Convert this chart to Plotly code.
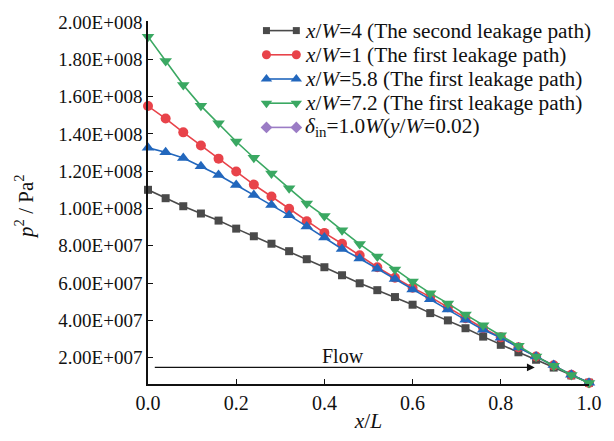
import plotly.graph_objects as go

# Relative position along the channel
x_over_L = [0.00, 0.04, 0.08, 0.12, 0.16, 0.20, 0.24, 0.28, 0.32, 0.36, 0.40, 0.44, 0.48,
            0.52, 0.56, 0.60, 0.64, 0.68, 0.72, 0.76, 0.80, 0.84, 0.88, 0.92, 0.96, 1.00]

# p^2 values (in units of 1e7 Pa^2)
p2_xw4 = [11.00, 10.55, 10.12, 9.73, 9.35, 8.92, 8.51, 8.11, 7.71, 7.28, 6.85, 6.42, 5.99,
          5.62, 5.25, 4.84, 4.39, 4.00, 3.58, 3.13, 2.69, 2.29, 1.89, 1.47, 1.05, 0.66]
p2_xw1 = [15.49, 14.82, 14.08, 13.38, 12.67, 11.98, 11.28, 10.64, 9.98, 9.31, 8.69, 8.11, 7.49,
          6.85, 6.29, 5.75, 5.26, 4.70, 4.12, 3.58, 3.09, 2.56, 2.06, 1.59, 1.08, 0.65]
p2_xw58 = [13.25, 13.01, 12.71, 12.27, 11.79, 11.26, 10.72, 10.18, 9.63, 9.04, 8.44, 7.83, 7.32,
           6.77, 6.22, 5.65, 5.13, 4.59, 4.03, 3.50, 3.07, 2.55, 2.07, 1.61, 1.09, 0.66]
p2_xw72 = [19.21, 17.91, 16.62, 15.50, 14.57, 13.59, 12.72, 11.88, 11.08, 10.27, 9.59, 8.83, 8.09,
           7.42, 6.73, 6.08, 5.46, 4.91, 4.31, 3.74, 3.20, 2.64, 2.07, 1.57, 1.07, 0.64]

SCALE = 1e7

y_tickvals = [2e7, 4e7, 6e7, 8e7, 1e8, 1.2e8, 1.4e8, 1.6e8, 1.8e8, 2e8]
y_ticktext = ["2.00E+007", "4.00E+007", "6.00E+007", "8.00E+007", "1.00E+008",
              "1.20E+008", "1.40E+008", "1.60E+008", "1.80E+008", "2.00E+008"]
x_tickvals = [0.0, 0.2, 0.4, 0.6, 0.8, 1.0]
x_ticktext = ["0.0", "0.2", "0.4", "0.6", "0.8", "1.0"]

legend_names = [
    "<i>x</i>/<i>W</i>=4 (The second leakage path)",
    "<i>x</i>/<i>W</i>=1 (The first leakage path)",
    "<i>x</i>/<i>W</i>=5.8 (The first leakage path)",
    "<i>x</i>/<i>W</i>=7.2 (The first leakage path)",
    "<i>δ</i><sub>in</sub>=1.0<i>W</i>(<i>y</i>/<i>W</i>=0.02)",
]
colors = ["#4a4a4a", "#e8434a", "#2267bd", "#3aa862", "#9b7cc5"]
symbols = ["square", "circle", "triangle-up", "triangle-down", "diamond"]
marker_sizes = [8, 10, 11, 11, 10]
series_values = [p2_xw4, p2_xw1, p2_xw58, p2_xw72]

FONT = "Liberation Serif, Times New Roman, serif"
TEXT = "#111111"

# Plot area in pixels (figure 614 x 441)
M_L, M_R, M_T, M_B = 148, 23, 15, 48
PLOT_W = 614 - M_L - M_R
PLOT_H = 441 - M_T - M_B

fig = go.Figure()
for name, vals, color, symbol, size in zip(legend_names, series_values, colors, symbols, marker_sizes):
    fig.add_trace(go.Scatter(
        x=x_over_L, y=[v * SCALE for v in vals], mode="lines+markers", name=name,
        line=dict(color=color, width=1.6),
        marker=dict(symbol=symbol, size=size, color=color),
        cliponaxis=False, showlegend=False,
    ))

# Legend key: short line with a marker at each end, drawn on a hidden
# overlay axis pair measured in pixels from the plot area's top-left corner
KEY_X0, KEY_X1 = 267 - M_L, 297 - M_L
TEXT_X = 304 - M_L
ROW0, ROW_STEP = 25 - M_T, 25.2
for i, (name, color, symbol, size) in enumerate(zip(legend_names, colors, symbols, marker_sizes)):
    row_y = ROW0 + i * ROW_STEP
    fig.add_trace(go.Scatter(
        x=[KEY_X0, KEY_X1], y=[row_y, row_y], xaxis="x2", yaxis="y2",
        mode="lines+markers", line=dict(color=color, width=1.6),
        marker=dict(symbol=symbol, size=size - 1, color=color),
        cliponaxis=False, showlegend=False, hoverinfo="skip",
    ))
    fig.add_annotation(x=TEXT_X, y=row_y, xref="x2", yref="y2", text=name,
                       showarrow=False, xanchor="left", yanchor="middle",
                       font=dict(family=FONT, size=21.3, color=TEXT))

# Flow direction arrow
fig.add_annotation(x=0.877, y=1.48e7, ax=0.012, ay=1.48e7, xref="x", yref="y",
                   axref="x", ayref="y", showarrow=True, arrowhead=2, arrowsize=1.3,
                   arrowwidth=1.2, arrowcolor=TEXT, text="")
fig.add_annotation(x=0.443, y=2.07e7, xref="x", yref="y", text="Flow", showarrow=False,
                   font=dict(family=FONT, size=20, color=TEXT))

# Vertical axis title, centred 24 px from the left edge
fig.add_annotation(x=(24 - M_L) / PLOT_W, y=(441 - M_B - 208) / PLOT_H,
                   xref="paper", yref="paper", textangle=-90,
                   text="<i>p</i><sup>2</sup> / Pa<sup>2</sup>", showarrow=False,
                   xanchor="center", yanchor="middle",
                   font=dict(family=FONT, size=21, color=TEXT))

fig.update_layout(
    width=614, height=441,
    margin=dict(l=M_L, r=M_R, t=M_T, b=M_B),
    paper_bgcolor="white", plot_bgcolor="white",
    font=dict(family=FONT, size=20, color=TEXT),
    showlegend=False,
    xaxis=dict(
        range=[0, 1], tickvals=x_tickvals, ticktext=x_ticktext,
        showline=True, linecolor=TEXT, linewidth=1.5, mirror=False,
        ticks="inside", ticklen=5, tickcolor=TEXT, showgrid=False, zeroline=False,
        tickfont=dict(size=20), ticklabelstandoff=0,
        title=dict(text="<i>x</i>/<i>L</i>", standoff=0, font=dict(size=21.5)),
    ),
    yaxis=dict(
        range=[5.9e6, 2.005e8], tickvals=y_tickvals, ticktext=y_ticktext,
        showline=True, linecolor=TEXT, linewidth=1.5, mirror=False,
        ticks="inside", ticklen=5, tickcolor=TEXT, showgrid=False, zeroline=False,
        tickfont=dict(size=19),
    ),
    xaxis2=dict(overlaying="x", range=[0, PLOT_W], visible=False, fixedrange=True),
    yaxis2=dict(overlaying="y", range=[PLOT_H, 0], visible=False, fixedrange=True),
)

fig.write_html("out.html")
